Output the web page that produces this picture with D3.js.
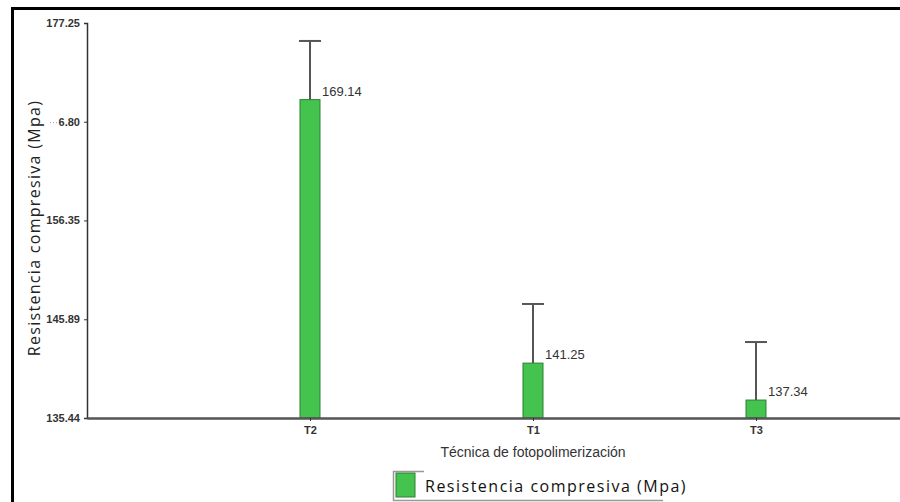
<!DOCTYPE html>
<html>
<head>
<meta charset="utf-8">
<script src="https://cdn.jsdelivr.net/npm/d3@7"></script>
<style>
  body { margin: 0; background: #fff; }
  svg { display: block; }
</style>
</head>
<body>
<script>
var categories = ["T2", "T1", "T3"];
var means = [169.14, 141.25, 137.34];
var errors = [6.21, 6.26, 6.14];
var tickValues = [135.44, 145.89, 156.35, 166.80, 177.25];
var tickLabels = ["135.44", "145.89", "156.35", "6.80", "177.25"];
var yTitle = "Resistencia compresiva (Mpa)";
var xTitle = "Técnica de fotopolimerización";
var legendLabel = "Resistencia compresiva (Mpa)";

var width = 900, height = 502;
var green = "#45c34f";

var svg = d3.select("body").append("svg")
  .attr("width", width)
  .attr("height", height);

// outer frame (left and top only visible)
svg.append("path")
  .attr("d", "M12.5,502 L12.5,8.5 L900,8.5")
  .attr("fill", "none")
  .attr("stroke", "#000")
  .attr("stroke-width", 3);

var y = d3.scaleLinear()
  .domain([135.44, 177.25])
  .range([418, 23]);

var x = d3.scalePoint()
  .domain(categories)
  .range([87, 979])
  .padding(1);

var data = categories.map(function (c, i) {
  return { cat: c, mean: means[i], err: errors[i] };
});

// y axis
var yAxis = svg.append("g")
  .attr("transform", "translate(87,0)")
  .call(d3.axisLeft(y).tickValues(tickValues).tickSize(3)
    .tickFormat(function (d, i) { return tickLabels[i]; }));
yAxis.select(".domain").attr("stroke", "#333").attr("stroke-width", 1.5);
yAxis.selectAll(".tick line").attr("stroke", "#333");
yAxis.selectAll(".tick text")
  .attr("font-family", "'Liberation Sans Narrow', Arial, sans-serif")
  .attr("font-size", 11)
  .attr("font-weight", "bold")
  .attr("fill", "#333")
  .attr("dx", -1);

// dotted bit before the truncated label
svg.append("line")
  .attr("x1", 50).attr("x2", 58)
  .attr("y1", y(166.80) + 1).attr("y2", y(166.80) + 1)
  .attr("stroke", "#999")
  .attr("stroke-dasharray", "1,2");

// bars
svg.selectAll("rect.bar")
  .data(data)
  .enter()
  .append("rect")
  .attr("class", "bar")
  .attr("x", function (d) { return x(d.cat) - 10; })
  .attr("width", 20)
  .attr("y", function (d) { return y(d.mean); })
  .attr("height", function (d) { return y(135.44) - y(d.mean); })
  .attr("fill", green)
  .attr("stroke", "#2f7f35")
  .attr("stroke-width", 1);

// error bars
var eb = svg.selectAll("g.err")
  .data(data)
  .enter()
  .append("g")
  .attr("class", "err");
eb.append("line")
  .attr("x1", function (d) { return x(d.cat); })
  .attr("x2", function (d) { return x(d.cat); })
  .attr("y1", function (d) { return y(d.mean); })
  .attr("y2", function (d) { return y(d.mean + d.err); })
  .attr("stroke", "#555")
  .attr("stroke-width", 2);
eb.append("line")
  .attr("x1", function (d) { return x(d.cat) - 11; })
  .attr("x2", function (d) { return x(d.cat) + 11; })
  .attr("y1", function (d) { return y(d.mean + d.err); })
  .attr("y2", function (d) { return y(d.mean + d.err); })
  .attr("stroke", "#555")
  .attr("stroke-width", 2);

// value labels
svg.selectAll("text.val")
  .data(data)
  .enter()
  .append("text")
  .attr("class", "val")
  .attr("x", function (d) { return x(d.cat) + 12; })
  .attr("y", function (d) { return y(d.mean) - 4; })
  .attr("font-family", "Arial, 'Liberation Sans', sans-serif")
  .attr("font-size", 13)
  .attr("fill", "#333")
  .text(function (d) { return d.mean.toFixed(2); });

// x axis
var xAxis = svg.append("g")
  .attr("transform", "translate(0,418)")
  .call(d3.axisBottom(x).tickSize(3).tickSizeOuter(0));
xAxis.select(".domain").attr("stroke", "#555").attr("stroke-width", 2.5);
xAxis.selectAll(".tick line").attr("stroke", "#333");
xAxis.selectAll(".tick text")
  .attr("font-family", "'Liberation Sans Narrow', Arial, sans-serif")
  .attr("font-size", 11)
  .attr("font-weight", "bold")
  .attr("fill", "#333")
  .attr("dy", "0.95em");

// axis titles
svg.append("text")
  .attr("transform", "translate(40,228) rotate(-90)")
  .attr("text-anchor", "middle")
  .attr("font-family", "'Open Sans', sans-serif")
  .attr("font-size", 16)
  .attr("letter-spacing", 1.3)
  .attr("fill", "#222")
  .text(yTitle);

svg.append("text")
  .attr("x", 533)
  .attr("y", 457)
  .attr("text-anchor", "middle")
  .attr("font-family", "Arial, 'Liberation Sans', sans-serif")
  .attr("font-size", 14)
  .attr("fill", "#333")
  .text(xTitle);

// legend
var lg = svg.append("g").attr("transform", "translate(393,471)");
lg.append("path")
  .attr("d", "M31,0.5 L0.5,0.5 L0.5,29.5 L270,29.5")
  .attr("fill", "none")
  .attr("stroke", "#999")
  .attr("stroke-width", 1.5);
lg.append("rect")
  .attr("x", 3).attr("y", 2)
  .attr("width", 19).attr("height", 24)
  .attr("fill", green)
  .attr("stroke", "#2f7f35");
lg.append("text")
  .attr("x", 32)
  .attr("y", 21)
  .attr("font-family", "'Open Sans', sans-serif")
  .attr("font-size", 16)
  .attr("letter-spacing", 1.5)
  .attr("fill", "#111")
  .text(legendLabel);
</script>
</body>
</html>
